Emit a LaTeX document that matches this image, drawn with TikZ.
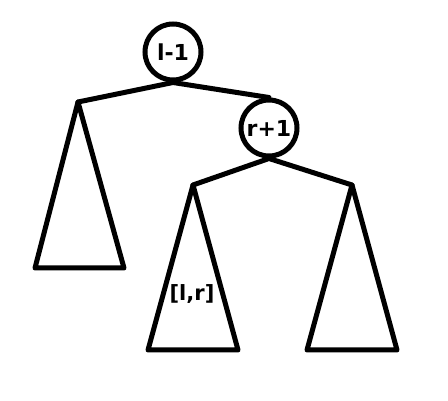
\documentclass[tikz,border=0pt]{standalone}
\usepackage{fontspec}
\setmainfont{DejaVu Sans}
\begin{document}
\begin{tikzpicture}[x=1pt,y=-1pt,
  edge/.style={line width=5pt,line cap=round,line join=round},
  circ/.style={circle,draw,line width=5pt,minimum size=56pt,inner sep=0pt,font=\bfseries\fontsize{22}{24}\selectfont},
  lbl/.style={font=\bfseries\fontsize{21}{23}\selectfont,inner sep=0pt}]
\useasboundingbox (0,0) rectangle (448,401);
\node[circ] (a) at (173,52) {l-1};
\node[circ] (b) at (269,128) {r+1};
\coordinate (p) at (78,102);
\coordinate (q) at (193,185);
\coordinate (s) at (352,185);
\draw[edge] (p) -- (a.south) -- (b.north);
\draw[edge] (q) -- (b.south) -- (s);
\draw[edge] (p) -- (35,268) -- (124,268) -- cycle;
\draw[edge] (q) -- (148,350) -- (238,350) -- cycle;
\draw[edge] (s) -- (307,350) -- (397,350) -- cycle;
\node[lbl] (t) at (192,294) {[l,r]};
\end{tikzpicture}
\end{document}
